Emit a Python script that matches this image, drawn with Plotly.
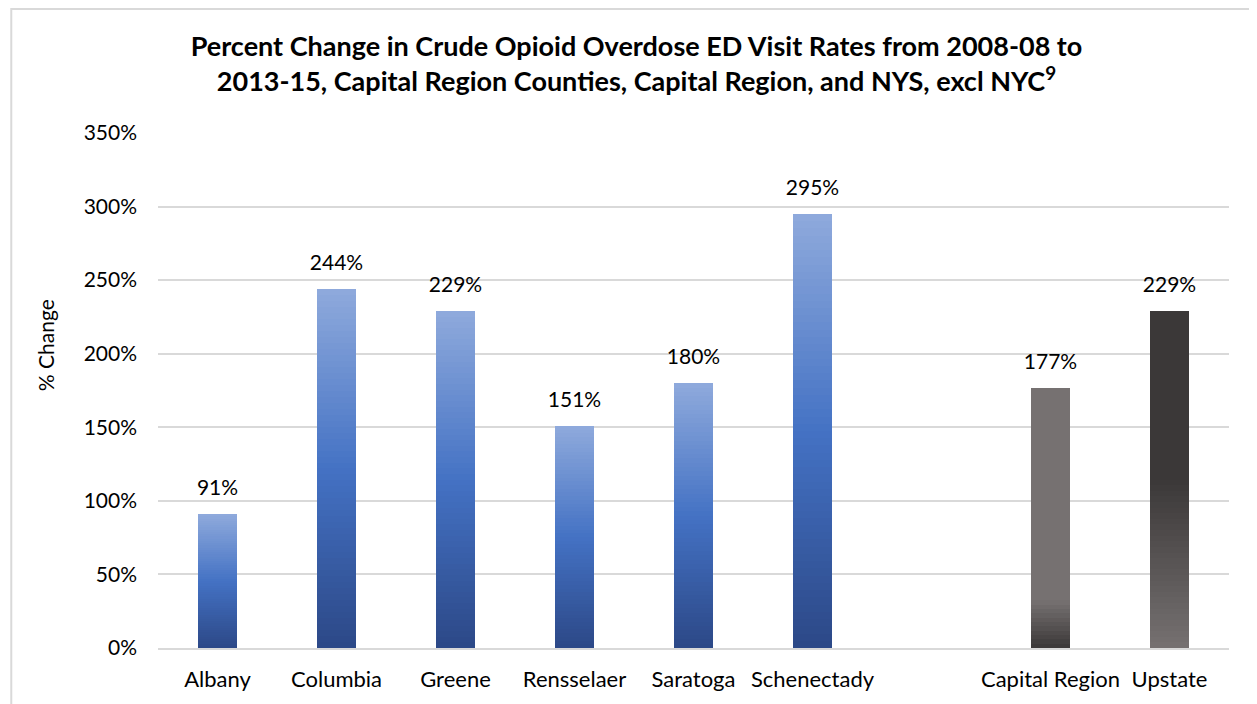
import plotly.graph_objs as go

# Percent change in crude opioid overdose ED visit rates
categories = ['Albany', 'Columbia', 'Greene', 'Rensselaer', 'Saratoga',
              'Schenectady', ' ', 'Capital Region', 'Upstate']
pct_change = [91, 244, 229, 151, 180, 295, None, 177, 229]
label_text = ['91%', '244%', '229%', '151%', '180%', '295%', None, '177%', '229%']
y_ticks = [0, 50, 100, 150, 200, 250, 300, 350]

title = ('<b>Percent Change in Crude Opioid Overdose ED Visit Rates from 2008-08 to<br>'
         '2013-15, Capital Region Counties, Capital Region, and NYS, excl NYC<sup>9</sup></b>')

font_family = 'Lato, Open Sans, sans-serif'

# gradient stops, position measured from top of bar (0) to bottom (1)
blue_stops = [(0.0, (143, 170, 220)), (0.5, (68, 114, 196)), (1.0, (44, 72, 135))]
grey_fade_stops = [(0.0, (118, 113, 113)), (0.82, (118, 113, 113)), (1.0, (59, 56, 56))]
grey_rise_stops = [(0.0, (59, 56, 56)), (0.5, (59, 56, 56)), (1.0, (118, 113, 113))]
bar_stops = [blue_stops] * 7 + [grey_fade_stops, grey_rise_stops]

n_slices = 60


def color_at(stops, pos):
    """Linear interpolation of gradient stops"""
    for (p0, c0), (p1, c1) in zip(stops[:-1], stops[1:]):
        if p0 <= pos <= p1:
            t = 0 if p1 == p0 else (pos - p0) / (p1 - p0)
            rgb = [round(a + (b - a) * t) for a, b in zip(c0, c1)]
            return 'rgb({},{},{})'.format(*rgb)
    return 'rgb({},{},{})'.format(*stops[-1][1])


fig = go.Figure()

# each bar is stacked from thin slices so the fill can carry a vertical gradient
for k in range(n_slices):
    pos = 1 - (k + 0.5) / n_slices
    fig.add_trace(go.Bar(x=categories,
                         y=[v / n_slices if v is not None else None for v in pct_change],
                         marker={'color': [color_at(s, pos) for s in bar_stops],
                                 'line': {'width': 0}},
                         hoverinfo='skip',
                         showlegend=False))

# value labels; the invisible markers push the text up off the bar tops
fig.add_trace(go.Scatter(x=categories,
                         y=pct_change,
                         mode='markers+text',
                         marker={'size': 20, 'opacity': 0},
                         text=label_text,
                         textposition='top center',
                         textfont={'size': 21, 'color': '#000000', 'family': font_family},
                         hoverinfo='skip',
                         showlegend=False))

fig.layout.update(
    width=1257,
    height=704,
    margin={'l': 150, 'r': 36, 't': 125, 'b': 64},
    paper_bgcolor='white',
    plot_bgcolor='white',
    font={'family': font_family, 'size': 21, 'color': '#000000'},
    barmode='stack',
    bargap=0.68,
    title={'text': title, 'x': 0.5, 'xanchor': 'center', 'y': 0.932, 'yanchor': 'top',
           'font': {'size': 27, 'family': font_family, 'color': '#000000'}},
    xaxis={'type': 'category',
           'categoryorder': 'array',
           'categoryarray': categories,
           'range': [-0.5, len(categories) - 0.5],
           'showgrid': False,
           'showline': True, 'linecolor': '#D9D9D9', 'linewidth': 2,
           'tickfont': {'size': 22},
           'ticks': '', 'ticklabelstandoff': 11},
    yaxis={'range': [0, 350],
           'tickvals': y_ticks,
           'ticktext': ['{}%'.format(t) for t in y_ticks],
           'showgrid': True, 'gridcolor': '#D9D9D9', 'gridwidth': 2,
           'zeroline': False,
           'tickfont': {'size': 21},
           'ticklabelstandoff': 20},
    annotations=[{'text': '% Change', 'textangle': -90, 'showarrow': False,
                  'xref': 'paper', 'yref': 'paper', 'x': -0.1055, 'y': 0.588,
                  'xanchor': 'center', 'yanchor': 'middle',
                  'font': {'size': 21, 'family': font_family, 'color': '#000000'}}],
    shapes=[{'type': 'rect', 'xref': 'paper', 'yref': 'paper',
             'x0': -0.137, 'x1': 1.06, 'y0': -0.2, 'y1': 1.241,
             'line': {'color': '#D9D9D9', 'width': 2}, 'fillcolor': 'rgba(0,0,0,0)',
             'layer': 'below'}]
)

fig.write_html("out.html")
